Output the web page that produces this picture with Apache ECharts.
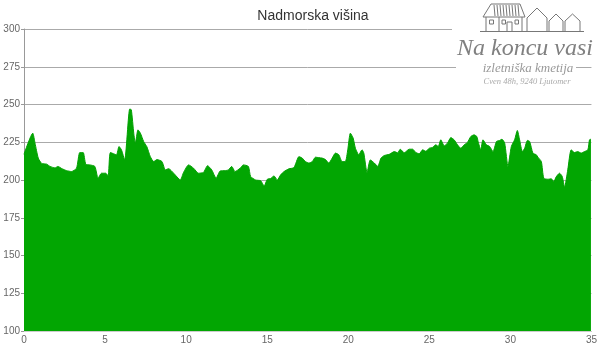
<!DOCTYPE html>
<html>
<head>
<meta charset="utf-8">
<script src="https://cdn.jsdelivr.net/npm/echarts@6/dist/echarts.min.js"></script>
<style>html,body{margin:0;padding:0;background:#fff}#c{width:600px;height:350px}</style>
</head>
<body>
<div id="c"></div>
<script>
var titleText = 'Nadmorska višina';
var xTicks = [0, 5, 10, 15, 20, 25, 30, 35];
var yTicks = [100, 125, 150, 175, 200, 225, 250, 275, 300];
var distanceKm = [0, 0.54, 0.68, 0.88, 1.09, 1.40, 1.60, 1.91, 2.09, 2.34, 2.63, 2.93, 3.24, 3.44, 3.65, 3.81, 4.06, 4.37, 4.57, 4.78, 5.04, 5.19, 5.33, 5.70, 5.86, 6.01, 6.21, 6.52, 6.62, 6.77, 6.87, 7.03, 7.18, 7.38, 7.58, 7.79, 8.00, 8.20, 8.51, 8.72, 8.92, 9.23, 9.64, 9.84, 10.15, 10.46, 10.76, 11.07, 11.32, 11.58, 11.85, 12.10, 12.41, 12.61, 12.81, 13.02, 13.33, 13.53, 13.84, 13.98, 14.29, 14.60, 14.81, 15.01, 15.21, 15.42, 15.62, 15.83, 16.04, 16.34, 16.65, 16.96, 17.16, 17.36, 17.57, 17.78, 17.98, 18.19, 18.39, 18.60, 18.80, 19.01, 19.21, 19.42, 19.62, 19.82, 19.97, 20.13, 20.30, 20.44, 20.65, 20.85, 20.96, 21.16, 21.36, 21.61, 21.82, 22.02, 22.22, 22.53, 22.84, 23.05, 23.21, 23.45, 23.76, 23.97, 24.17, 24.38, 24.59, 24.79, 24.99, 25.20, 25.40, 25.55, 25.71, 25.92, 26.12, 26.33, 26.53, 26.74, 26.94, 27.15, 27.35, 27.56, 27.76, 27.93, 28.01, 28.17, 28.31, 28.52, 28.72, 28.93, 29.14, 29.34, 29.48, 29.65, 29.85, 30.06, 30.26, 30.43, 30.57, 30.74, 30.88, 31.05, 31.19, 31.39, 31.60, 31.70, 31.91, 32.06, 32.31, 32.52, 32.68, 32.82, 33.03, 33.20, 33.34, 33.54, 33.75, 33.95, 34.16, 34.37, 34.57, 34.78, 34.88, 34.97];
var elevationM = [217, 231, 224.4, 214.5, 211, 210.5, 209, 208, 209, 207.5, 206.2, 205.6, 207.8, 218.2, 218.2, 210.5, 210, 209, 201.2, 204.5, 204.5, 202.7, 218.2, 216.7, 222.2, 220, 213.3, 247, 246.5, 231, 224.4, 233.2, 231, 225.5, 222, 215.5, 212.2, 213.5, 212.2, 206.7, 207.5, 204.5, 200.1, 205, 210, 207.8, 204.5, 205, 209.5, 206.7, 201.2, 206, 206.2, 206.7, 209, 205.6, 207.8, 210, 209, 202.3, 200, 199.5, 196, 200.5, 201, 202.7, 200, 203.4, 205.6, 207.4, 208.2, 215.5, 214.5, 212.2, 211.2, 212.2, 215.1, 214.8, 214.5, 213.5, 211.2, 214.5, 217.8, 216.7, 212.2, 212.2, 220, 231, 227.8, 221.1, 216.7, 220, 217.8, 205, 213.3, 211.2, 209, 214.5, 216.2, 217, 218.8, 218, 220.4, 218, 220.4, 220.4, 218.2, 217.4, 220, 219, 221, 221.6, 223.3, 222.2, 226.6, 222.6, 224.4, 228.1, 226.6, 223.3, 221, 223.3, 224.9, 228.8, 229.9, 228.8, 225.5, 220, 226.6, 223.3, 222.2, 218.8, 225.5, 226.2, 227, 224.4, 209, 222.2, 226.6, 232.8, 226.6, 218.8, 221, 226.2, 225.5, 217.8, 216.7, 215.1, 212.2, 201.2, 200.5, 200.8, 199, 202, 204.5, 202.3, 195.2, 206.7, 220, 218.2, 218.8, 217.8, 218.8, 220, 226.6, 227];

var points = distanceKm.map(function (d, i) { return [d, elevationM[i]]; });
var chart = echarts.init(document.getElementById('c'), null, {renderer: 'canvas'});
var gray = '#777';
var logo = [
  {type: 'rect', z: 50, silent: true, shape: {x: 452, y: 0, width: 148, height: 60}, style: {fill: '#fff'}},
  {type: 'rect', z: 50, silent: true, shape: {x: 456, y: 60, width: 120, height: 30}, style: {fill: '#fff'}}
];
function poly(pts) { logo.push({type: 'polyline', z: 51, shape: {points: pts}, style: {stroke: gray, fill: null, lineWidth: 1}, silent: true}); }
function rect(x, y, w, h) { logo.push({type: 'rect', z: 51, shape: {x: x, y: y, width: w, height: h}, style: {stroke: gray, fill: null, lineWidth: 1}, silent: true}); }
poly([[480, 31.5], [584, 31.5]]);
poly([[483, 17], [491, 4], [520, 4], [525, 17], [483, 17]]);
for (var sx = 494; sx <= 518; sx += 3) { poly([[sx, 5], [sx + 1, 16]]); }
poly([[486, 17], [486, 31.5]]);
poly([[522, 17], [522, 31.5]]);
poly([[499, 17], [499, 31.5]]);
rect(489.5, 20, 4, 4);
rect(502, 20, 3.5, 4);
rect(507, 22, 5, 9.5);
rect(515, 20, 3.5, 4);
poly([[527, 31.5], [527, 18], [537, 8], [547, 18], [547, 31.5]]);
poly([[549, 31.5], [549, 21], [556, 14], [563, 21], [563, 31.5]]);
poly([[565, 31.5], [565, 21], [572.5, 14], [580, 21], [580, 31.5]]);
logo.push(
  {type: 'text', z: 52, silent: true, style: {x: 525, y: 49, text: 'Na koncu vasi', textAlign: 'center', textVerticalAlign: 'middle',
    font: 'italic 24px "Liberation Serif", "DejaVu Serif", serif', fill: '#808080'}},
  {type: 'text', z: 52, silent: true, style: {x: 528, y: 69, text: 'izletniška kmetija', textAlign: 'center', textVerticalAlign: 'middle',
    font: 'italic 13px "Liberation Serif", "DejaVu Serif", serif', fill: '#999'}},
  {type: 'text', z: 52, silent: true, style: {x: 527, y: 81.5, text: 'Cven 48h, 9240 Ljutomer', textAlign: 'center', textVerticalAlign: 'middle',
    font: 'italic 8.5px "Liberation Serif", "DejaVu Serif", serif', fill: '#aaa'}}
);

chart.setOption({
  animation: false,
  backgroundColor: '#fff',
  title: {
    text: titleText, left: 308, top: 4, textAlign: 'center',
    textStyle: {fontFamily: 'Liberation Sans, Arial, sans-serif', fontSize: 14, fontWeight: 'normal', color: '#333'}
  },
  grid: {left: 24, right: 7, top: 29, bottom: 19, containLabel: false},
  xAxis: {
    type: 'value', min: 0, max: 35, interval: 5,
    axisLine: {show: true, lineStyle: {color: '#ccc'}},
    axisTick: {show: false},
    splitLine: {show: false},
    axisLabel: {color: '#666', fontSize: 10, margin: 4, fontFamily: 'Liberation Sans, Arial, sans-serif',
      formatter: function (v) { return xTicks.indexOf(v) >= 0 ? String(v) : ''; }}
  },
  yAxis: {
    type: 'value', min: 100, max: 300, interval: 25,
    axisLine: {show: true, lineStyle: {color: '#999'}},
    axisTick: {show: true, length: 3, lineStyle: {color: '#999'}},
    splitLine: {show: true, lineStyle: {color: '#aaa'}},
    axisLabel: {color: '#666', fontSize: 10, margin: 4, fontFamily: 'Liberation Sans, Arial, sans-serif',
      formatter: function (v) { return yTicks.indexOf(v) >= 0 ? String(v) : ''; }}
  },
  series: [{
    type: 'line', data: points, showSymbol: false, smooth: 0.2,
    lineStyle: {color: '#02a202', width: 1},
    areaStyle: {color: '#02a602', opacity: 1},
    itemStyle: {color: '#02a602'}
  }],
  graphic: logo
});
</script>
</body>
</html>
